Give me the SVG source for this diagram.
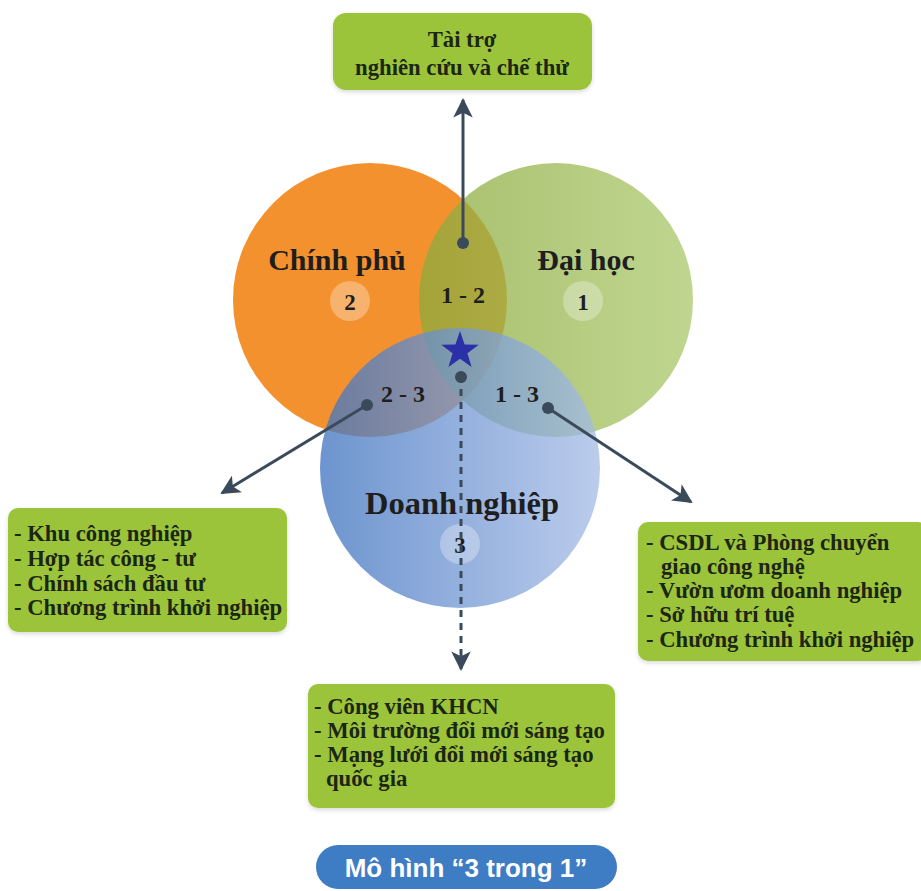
<svg xmlns="http://www.w3.org/2000/svg" width="921" height="891" viewBox="0 0 921 891">
<defs>
<linearGradient id="gGreen" x1="0" y1="0" x2="1" y2="0">
<stop offset="0" stop-color="#8aaa3c"/>
<stop offset="1" stop-color="#aac86a"/>
</linearGradient>
<linearGradient id="gBlue" x1="0" y1="0" x2="1" y2="0">
<stop offset="0" stop-color="#3f73c0"/>
<stop offset="1" stop-color="#a6bce6"/>
</linearGradient>
<marker id="arr" viewBox="0 0 10 10" refX="9" refY="5" markerWidth="6.5" markerHeight="6.5" orient="auto" markerUnits="strokeWidth">
<path d="M0,0 L10,5 L0,10 L2.5,5 z" fill="#3a4a5a"/>
</marker>
<filter id="sh" x="-5%" y="-5%" width="110%" height="115%">
<feDropShadow dx="0" dy="2" stdDeviation="2" flood-color="#000" flood-opacity="0.15"/>
</filter>
</defs>
<style>
.box{fill:#9cc43a;filter:url(#sh)}
.bt{font-family:"Liberation Serif","Times New Roman",serif;font-weight:bold;font-size:22.7px;fill:#1c2614}
.ct{font-family:"Liberation Serif","Times New Roman",serif;font-weight:bold;fill:#1e1e1e}
.num{fill:#ffffff;fill-opacity:0.3}
.ln{stroke:#3a4a5a;stroke-width:3;fill:none}
.dot{fill:#3a4a5a}
</style>
<rect width="921" height="891" fill="#ffffff"/>

<g id="circles">
<g id="chinh-phu">
<circle cx="370" cy="300" r="137" fill="#f4912f"/>
</g>
<g id="dai-hoc">
<circle cx="556" cy="300" r="137" fill="url(#gGreen)" fill-opacity="0.75"/>
</g>
<g id="doanh-nghiep">
<circle cx="460" cy="468" r="140" fill="url(#gBlue)" fill-opacity="0.76"/>
</g>
</g>

<g id="labels">
<text class="ct" x="337" y="270" font-size="30" text-anchor="middle">Chính phủ</text>
<circle class="num" cx="350" cy="301" r="20"/>
<text class="ct" x="350" y="310" font-size="23" text-anchor="middle">2</text>
<text class="ct" x="586" y="270" font-size="30" text-anchor="middle">Đại học</text>
<circle class="num" cx="583" cy="301" r="20"/>
<text class="ct" x="583" y="310" font-size="23" text-anchor="middle">1</text>
<text class="ct" x="463" y="303" font-size="24" text-anchor="middle">1 - 2</text>
<text class="ct" x="403" y="402" font-size="24" text-anchor="middle">2 - 3</text>
<text class="ct" x="517" y="402" font-size="24" text-anchor="middle">1 - 3</text>
<text class="ct" x="462" y="514" font-size="32.5" text-anchor="middle">Doanh nghiệp</text>
<circle class="num" cx="460" cy="544" r="20"/>
<text class="ct" x="460" y="553" font-size="23" text-anchor="middle">3</text>
<polygon id="star" points="460,331 464.6,344.6 478.8,344.8 467.4,353.3 471.6,366.9 460,358.7 448.4,366.9 452.6,353.3 441.2,344.8 455.4,344.6" fill="#2b2fa8"/>
</g>

<g id="connectors">
<line class="ln" x1="463" y1="243" x2="463" y2="100" marker-end="url(#arr)"/>
<circle class="dot" cx="463" cy="243" r="6"/>
<line class="ln" x1="367" y1="405" x2="222" y2="493" marker-end="url(#arr)"/>
<circle class="dot" cx="367" cy="405" r="6"/>
<line class="ln" x1="548" y1="408" x2="691" y2="502" marker-end="url(#arr)"/>
<circle class="dot" cx="548" cy="408" r="6"/>
<line class="ln" x1="461" y1="376" x2="461" y2="669" stroke-dasharray="7,6" marker-end="url(#arr)"/>
<circle class="dot" cx="461" cy="377" r="6"/>
</g>

<g id="box-top">
<rect class="box" x="333" y="13" width="259" height="77" rx="13"/>
<text class="bt" x="462" y="47" text-anchor="middle" font-size="23">Tài trợ</text>
<text class="bt" x="462" y="75" text-anchor="middle" font-size="23">nghiên cứu và chế thử</text>
</g>

<g id="box-left">
<rect class="box" x="8" y="508" width="279" height="124" rx="10"/>
<text class="bt" x="14" y="541">- Khu công nghiệp</text>
<text class="bt" x="14" y="566">- Hợp tác công - tư</text>
<text class="bt" x="14" y="591">- Chính sách đầu tư</text>
<text class="bt" x="14" y="615">- Chương trình khởi nghiệp</text>
</g>

<g id="box-right">
<rect class="box" x="638" y="522" width="290" height="139" rx="10"/>
<text class="bt" x="646" y="550">- CSDL và Phòng chuyển</text>
<text class="bt" x="661" y="574">giao công nghệ</text>
<text class="bt" x="646" y="598">- Vườn ươm doanh nghiệp</text>
<text class="bt" x="646" y="622">- Sở hữu trí tuệ</text>
<text class="bt" x="646" y="647">- Chương trình khởi nghiệp</text>
</g>

<g id="box-bottom">
<rect class="box" x="308" y="684" width="307" height="124" rx="10"/>
<text class="bt" x="314" y="714">- Công viên KHCN</text>
<text class="bt" x="314" y="738">- Môi trường đổi mới sáng tạo</text>
<text class="bt" x="314" y="762">- Mạng lưới đổi mới sáng tạo</text>
<text class="bt" x="326" y="786">quốc gia</text>
</g>

<g id="title">
<rect x="316" y="845" width="301" height="44" rx="22" fill="#3e7cc3"/>
<text x="466" y="877" text-anchor="middle" font-family="Liberation Sans, Arial, sans-serif" font-weight="bold" font-size="26" fill="#ffffff">Mô hình “3 trong 1”</text>
</g>
</svg>
